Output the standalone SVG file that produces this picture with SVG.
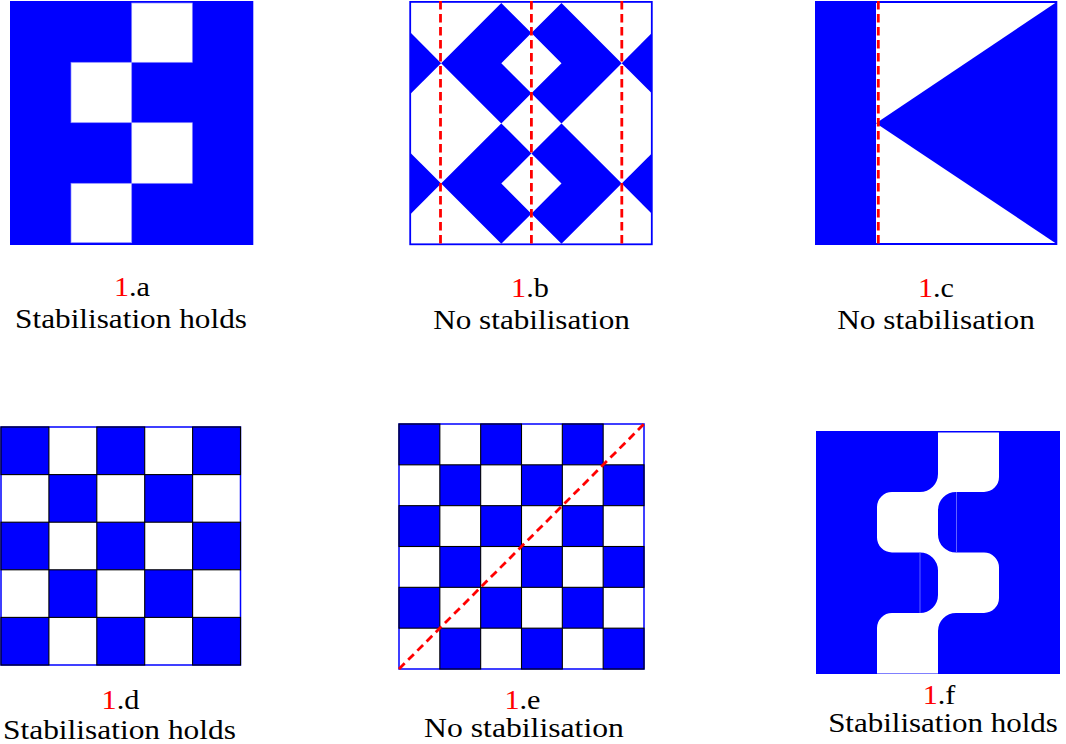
<svg xmlns="http://www.w3.org/2000/svg" width="1066" height="744" viewBox="0 0 1066 744">
  <style>
    .blue { fill: #0000ff; }
    .white { fill: #ffffff; }
    .wsq { fill: #ffffff; stroke: #8c8cff; stroke-width: 0.7; }
    .frame { fill: none; stroke: #0000ff; stroke-width: 1.8; }
    .frame-thin { fill: none; stroke: #0000ff; stroke-width: 1.5; }
    .cell { fill: #0000ff; stroke: #000000; stroke-width: 1.1; }
    .dash { fill: none; stroke: #ff0000; stroke-width: 2.8; stroke-dasharray: 8.5 4.5; }
    .seam { fill: none; stroke: #7a7aff; stroke-width: 0.8; }
    .lbl { font-family: "Liberation Serif", serif; font-size: 28px; fill: #000000; text-anchor: middle; }
    .red { fill: #ff0000; }
  </style>
  <rect width="1066" height="744" fill="#ffffff"/>

  <g id="panel-a">
    <rect class="blue" x="10" y="1" width="243.3" height="244"/>
    <rect class="wsq" x="131.7" y="3" width="60.6" height="59.3"/>
    <rect class="wsq" x="71" y="62.3" width="60.7" height="60.4"/>
    <rect class="wsq" x="131.7" y="122.7" width="60.6" height="60.6"/>
    <rect class="wsq" x="71" y="183.3" width="60.7" height="59.4"/>
    <text class="lbl" transform="translate(132,296) scale(1.08,1)"><tspan class="red">1</tspan>.a</text>
    <text class="lbl" transform="translate(131,328) scale(1.117,1)">Stabilisation holds</text>
  </g>

  <g id="panel-b">
    <rect class="white" x="411" y="3" width="240.8" height="240.8"/>
    <polygon class="blue" points="501.3,3 441.1,63.2 501.3,123.4 531.4,93.3 501.3,63.2 531.4,33.1"/>
    <polygon class="blue" points="561.5,3 621.7,63.2 561.5,123.4 531.4,93.3 561.5,63.2 531.4,33.1"/>
    <polygon class="blue" points="501.3,123.4 441.1,183.6 501.3,243.8 531.4,213.7 501.3,183.6 531.4,153.5"/>
    <polygon class="blue" points="561.5,123.4 621.7,183.6 561.5,243.8 531.4,213.7 561.5,183.6 531.4,153.5"/>
    <polygon class="blue" points="411,33.1 441.1,63.2 411,93.3"/>
    <polygon class="blue" points="411,153.5 441.1,183.6 411,213.7"/>
    <polygon class="blue" points="651.8,33.1 621.7,63.2 651.8,93.3"/>
    <polygon class="blue" points="651.8,153.5 621.7,183.6 651.8,213.7"/>
    <rect class="frame" x="410.2" y="1.9" width="241.6" height="242.4"/>
    <line class="dash" x1="440.5" y1="1" x2="440.5" y2="245"/>
    <line class="dash" x1="531.4" y1="1" x2="531.4" y2="245"/>
    <line class="dash" x1="621.8" y1="1" x2="621.8" y2="245"/>
    <text class="lbl" transform="translate(530,296.5) scale(1.08,1)"><tspan class="red">1</tspan>.b</text>
    <text class="lbl" transform="translate(531.5,328.5) scale(1.115,1)">No stabilisation</text>
  </g>

  <g id="panel-c">
    <rect class="blue" x="815" y="1" width="242.3" height="244"/>
    <rect class="white" x="876" y="3" width="179.6" height="240"/>
    <polygon class="blue" points="876,123.3 1056,2.5 1056,243.5"/>
    <line class="dash" x1="878.3" y1="1" x2="878.3" y2="245"/>
    <text class="lbl" transform="translate(936,296.5) scale(1.08,1)"><tspan class="red">1</tspan>.c</text>
    <text class="lbl" transform="translate(936,328.5) scale(1.12,1)">No stabilisation</text>
  </g>

  <g id="panel-d">
    <rect class="white" x="1" y="427" width="239.5" height="238"/>
    <rect class="frame-thin" x="1" y="427" width="239.5" height="238"/>
    <rect class="cell" x="1" y="427" width="47.9" height="47.6"/>
    <rect class="cell" x="96.8" y="427" width="47.9" height="47.6"/>
    <rect class="cell" x="192.6" y="427" width="47.9" height="47.6"/>
    <rect class="cell" x="48.9" y="474.6" width="47.9" height="47.6"/>
    <rect class="cell" x="144.7" y="474.6" width="47.9" height="47.6"/>
    <rect class="cell" x="1" y="522.2" width="47.9" height="47.6"/>
    <rect class="cell" x="96.8" y="522.2" width="47.9" height="47.6"/>
    <rect class="cell" x="192.6" y="522.2" width="47.9" height="47.6"/>
    <rect class="cell" x="48.9" y="569.8" width="47.9" height="47.6"/>
    <rect class="cell" x="144.7" y="569.8" width="47.9" height="47.6"/>
    <rect class="cell" x="1" y="617.4" width="47.9" height="47.6"/>
    <rect class="cell" x="96.8" y="617.4" width="47.9" height="47.6"/>
    <rect class="cell" x="192.6" y="617.4" width="47.9" height="47.6"/>
    <text class="lbl" transform="translate(120.5,709) scale(1.08,1)"><tspan class="red">1</tspan>.d</text>
    <text class="lbl" transform="translate(119.5,738.5) scale(1.122,1)">Stabilisation holds</text>
  </g>

  <g id="panel-e">
    <rect class="white" x="399" y="424" width="245" height="245"/>
    <rect class="frame-thin" x="399" y="424" width="245" height="245"/>
    <rect class="cell" x="399" y="424" width="40.83" height="40.83"/>
    <rect class="cell" x="480.67" y="424" width="40.83" height="40.83"/>
    <rect class="cell" x="562.33" y="424" width="40.83" height="40.83"/>
    <rect class="cell" x="439.83" y="464.83" width="40.83" height="40.83"/>
    <rect class="cell" x="521.5" y="464.83" width="40.83" height="40.83"/>
    <rect class="cell" x="603.17" y="464.83" width="40.83" height="40.83"/>
    <rect class="cell" x="399" y="505.67" width="40.83" height="40.83"/>
    <rect class="cell" x="480.67" y="505.67" width="40.83" height="40.83"/>
    <rect class="cell" x="562.33" y="505.67" width="40.83" height="40.83"/>
    <rect class="cell" x="439.83" y="546.5" width="40.83" height="40.83"/>
    <rect class="cell" x="521.5" y="546.5" width="40.83" height="40.83"/>
    <rect class="cell" x="603.17" y="546.5" width="40.83" height="40.83"/>
    <rect class="cell" x="399" y="587.33" width="40.83" height="40.83"/>
    <rect class="cell" x="480.67" y="587.33" width="40.83" height="40.83"/>
    <rect class="cell" x="562.33" y="587.33" width="40.83" height="40.83"/>
    <rect class="cell" x="439.83" y="628.17" width="40.83" height="40.83"/>
    <rect class="cell" x="521.5" y="628.17" width="40.83" height="40.83"/>
    <rect class="cell" x="603.17" y="628.17" width="40.83" height="40.83"/>
    <line class="dash" x1="399" y1="669" x2="644" y2="424" style="stroke-dasharray: 8 5;"/>
    <text class="lbl" transform="translate(522.5,709) scale(1.08,1)"><tspan class="red">1</tspan>.e</text>
    <text class="lbl" transform="translate(524,737) scale(1.132,1)">No stabilisation</text>
  </g>

  <g id="panel-f">
    <rect class="blue" x="816" y="431" width="244" height="243"/>
    <path class="white" d="M938,432.5 H999 V477 A15,15 0 0 1 984,492 H956 A18,18 0 0 0 938,510 V534.5 A18,18 0 0 0 956,552.5 H984 A15,15 0 0 1 999,567.5 V598 A15,15 0 0 1 984,613 H956 A18,18 0 0 0 938,631 V673.5 H877 V628 A15,15 0 0 1 892,613 H920 A18,18 0 0 0 938,595 V570.5 A18,18 0 0 0 920,552.5 H892 A15,15 0 0 1 877,537.5 V507 A15,15 0 0 1 892,492 H920 A18,18 0 0 0 938,474 Z"/>
    <line class="seam" x1="956.5" y1="492" x2="956.5" y2="552.5"/>
    <line class="seam" x1="920" y1="552.5" x2="920" y2="613"/>
    <text class="lbl" transform="translate(939,703.7) scale(1.08,1)"><tspan class="red">1</tspan>.f</text>
    <text class="lbl" transform="translate(943,732) scale(1.107,1)">Stabilisation holds</text>
  </g>
</svg>
